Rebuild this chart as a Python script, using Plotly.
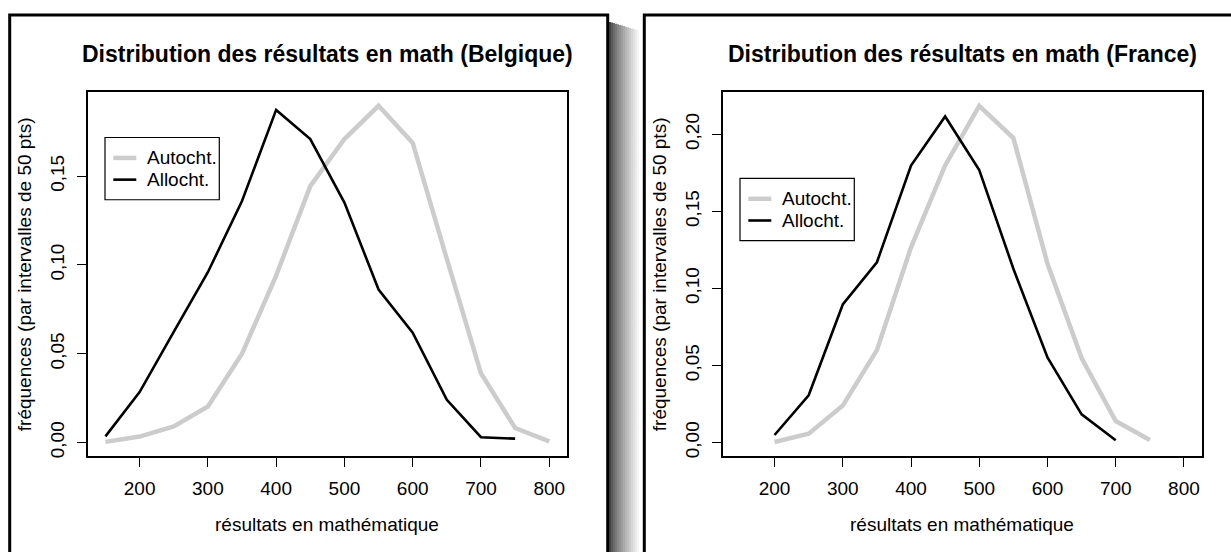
import plotly.graph_objects as go

# ---------------- data ----------------
bel_scores_auto = [150, 200, 250, 300, 350, 400, 450, 500, 550, 600, 650, 700, 750, 800]
bel_auto = [0.0004, 0.0034, 0.0091, 0.0203, 0.0500, 0.0940, 0.1444, 0.1709, 0.1896,
            0.1687, 0.1034, 0.0390, 0.0082, 0.0007]
bel_scores_allo = [150, 200, 250, 300, 350, 400, 450, 500, 550, 600, 650, 700, 750]
bel_allo = [0.0035, 0.0284, 0.0623, 0.0959, 0.1360, 0.1873, 0.1709, 0.1351, 0.0862,
            0.0619, 0.0241, 0.0030, 0.0022]

fra_scores_auto = [200, 250, 300, 350, 400, 450, 500, 550, 600, 650, 700, 750]
fra_auto = [0.0004, 0.0058, 0.0240, 0.0600, 0.1267, 0.1798, 0.2185, 0.1976, 0.1160,
            0.0548, 0.0140, 0.0017]
fra_scores_allo = [200, 250, 300, 350, 400, 450, 500, 550, 600, 650, 700]
fra_allo = [0.0049, 0.0307, 0.0896, 0.1170, 0.1798, 0.2116, 0.1768, 0.1128, 0.0552,
            0.0183, 0.0015]

x_tickvals = [200, 300, 400, 500, 600, 700, 800]
x_ticktext = ["200", "300", "400", "500", "600", "700", "800"]
bel_y_tickvals = [0.00, 0.05, 0.10, 0.15]
bel_y_ticktext = ["0,00", "0,05", "0,10", "0,15"]
fra_y_tickvals = [0.00, 0.05, 0.10, 0.15, 0.20]
fra_y_ticktext = ["0,00", "0,05", "0,10", "0,15", "0,20"]

series_names = ["Autocht.", "Allocht."]
titles = ["Distribution des résultats en math (Belgique)",
          "Distribution des résultats en math (France)"]
x_title = "résultats en mathématique"
y_title = "fréquences (par intervalles de 50 pts)"

# ---------------- layout helpers ----------------
W, H = 1231, 552
FONT = "Liberation Sans, Arial, Helvetica, sans-serif"
GRAY = "#cccccc"
W_AUTO, W_ALLO = 4.5, 2.6


def px(x):
    return x / W


def py(y):
    return 1 - y / H


def r_range(lo, hi):
    pad = 0.04 * (hi - lo)
    return [lo - pad, hi + pad]


fig = go.Figure()

fig.add_trace(go.Scatter(x=bel_scores_auto, y=bel_auto, mode="lines", name=series_names[0],
                         line=dict(color=GRAY, width=W_AUTO), xaxis="x", yaxis="y"))
fig.add_trace(go.Scatter(x=bel_scores_allo, y=bel_allo, mode="lines", name=series_names[1],
                         line=dict(color="black", width=W_ALLO), xaxis="x", yaxis="y"))
fig.add_trace(go.Scatter(x=fra_scores_auto, y=fra_auto, mode="lines", name=series_names[0],
                         line=dict(color=GRAY, width=W_AUTO), xaxis="x2", yaxis="y2"))
fig.add_trace(go.Scatter(x=fra_scores_allo, y=fra_allo, mode="lines", name=series_names[1],
                         line=dict(color="black", width=W_ALLO), xaxis="x2", yaxis="y2"))

xr = r_range(150, 800)
axis_common = dict(showgrid=False, zeroline=False, showline=True, mirror=True,
                   linecolor="black", linewidth=1.5, ticks="outside", ticklen=9,
                   tickwidth=1.2, tickcolor="black",
                   tickfont=dict(family=FONT, size=19, color="black"))

y1_hi = max(bel_auto + bel_allo)
y2_hi = max(fra_auto + fra_allo)

plot_top, plot_bot = 92.7, 457.7
fig.update_layout(
    width=W, height=H, margin=dict(l=0, r=0, t=0, b=0),
    paper_bgcolor="white", plot_bgcolor="white",
    font=dict(family=FONT, size=19, color="black"),
    showlegend=False,
    xaxis=dict(domain=[px(87.7), px(567)], range=xr, tickvals=x_tickvals, ticktext=x_ticktext,
               anchor="y", ticklabelstandoff=5, **axis_common),
    yaxis=dict(domain=[py(plot_bot), py(plot_top)], range=r_range(0, y1_hi),
               tickvals=bel_y_tickvals, ticktext=bel_y_ticktext, tickangle=-90,
               anchor="x", ticklabelstandoff=5, **axis_common),
    xaxis2=dict(domain=[px(722.7), px(1201.7)], range=xr, tickvals=x_tickvals, ticktext=x_ticktext,
                anchor="y2", ticklabelstandoff=5, **axis_common),
    yaxis2=dict(domain=[py(plot_bot), py(plot_top)], range=r_range(0, y2_hi),
                tickvals=fra_y_tickvals, ticktext=fra_y_ticktext, tickangle=-90,
                anchor="x2", ticklabelstandoff=5, **axis_common),
)

# ---------------- panel frames and shadow ----------------
shapes = []
n = 16
for i in range(n):
    x0 = 609 + i * 2
    g = int(70 + (255 - 70) * (i / (n - 1)) ** 0.8)
    shapes.append(dict(type="rect", xref="paper", yref="paper",
                       x0=px(x0), x1=px(x0 + 2), y0=py(560), y1=py(22 + i * 0.6),
                       line=dict(width=0), fillcolor=f"rgb({g},{g},{g})", layer="below"))
shapes.append(dict(type="rect", xref="paper", yref="paper",
                   x0=px(9.7), x1=px(607.7), y0=py(580), y1=py(15),
                   line=dict(color="black", width=3), fillcolor="rgba(0,0,0,0)", layer="below"))
shapes.append(dict(type="rect", xref="paper", yref="paper",
                   x0=px(644.3), x1=px(1260), y0=py(580), y1=py(15),
                   line=dict(color="black", width=3), fillcolor="rgba(0,0,0,0)", layer="below"))

# ---------------- legends (R-style boxes) ----------------
ann = []
legend_boxes = [(105, 138), (740, 179)]
ROW_GAP = 21.8
BOX_H = 62.5
for (lx, ly) in legend_boxes:
    shapes.append(dict(type="rect", xref="paper", yref="paper",
                       x0=px(lx), x1=px(lx + 114.3), y0=py(ly + BOX_H), y1=py(ly),
                       line=dict(color="black", width=1.2), fillcolor="white", layer="above"))
    for k, (col, lw) in enumerate([(GRAY, W_AUTO), ("black", W_ALLO)]):
        ry = ly + 20.5 + k * ROW_GAP
        shapes.append(dict(type="line", xref="paper", yref="paper",
                           x0=px(lx + 8.3), x1=px(lx + 31.3), y0=py(ry), y1=py(ry),
                           line=dict(color=col, width=lw), layer="above"))
        ann.append(dict(text=series_names[k], x=px(lx + 39.5), y=py(ry), xref="paper", yref="paper",
                        xanchor="left", yanchor="middle", showarrow=False,
                        font=dict(family=FONT, size=19, color="black")))
fig.update_layout(shapes=shapes)

# ---------------- titles and axis labels ----------------
for cx, ylab_x, t in [((87.7 + 567) / 2, 24, titles[0]), ((722.7 + 1201.7) / 2, 659, titles[1])]:
    ann.append(dict(text=f"<b>{t}</b>", x=px(cx), y=py(54.6), xref="paper", yref="paper",
                    xanchor="center", yanchor="middle", showarrow=False,
                    font=dict(family=FONT, size=23, color="black")))
    ann.append(dict(text=x_title, x=px(cx), y=py(526.4), xref="paper", yref="paper",
                    xanchor="center", yanchor="middle", showarrow=False,
                    font=dict(family=FONT, size=19, color="black")))
    ann.append(dict(text=y_title, x=px(ylab_x), y=py((plot_top + plot_bot) / 2), xref="paper",
                    yref="paper", xanchor="center", yanchor="middle", showarrow=False,
                    textangle=-90, font=dict(family=FONT, size=19, color="black")))
fig.update_layout(annotations=ann)

fig.write_html("out.html")
